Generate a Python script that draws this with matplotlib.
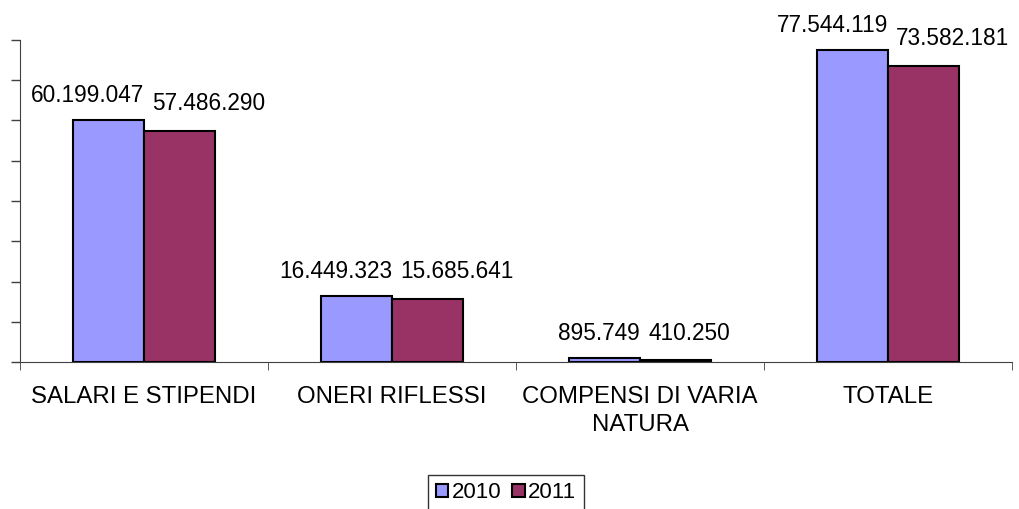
import numpy as np
import matplotlib.pyplot as plt
from matplotlib.patches import Patch

plt.rcParams['font.family'] = ['Liberation Sans', 'DejaVu Sans']

# Dati
categorie = ["SALARI E STIPENDI", "ONERI RIFLESSI", "COMPENSI DI VARIA\nNATURA", "TOTALE"]
anni = ["2010", "2011"]
valori_2010 = [60199047, 16449323, 895749, 77544119]
valori_2011 = [57486290, 15685641, 410250, 73582181]

colori = ["#9999FF", "#993366"]

def fmt(v):
    return f"{v:,}".replace(",", ".")

fig = plt.figure(figsize=(10.19, 5.09), dpi=100)
ax = fig.add_axes([20 / 1019, 1 - 362 / 509, 992 / 1019, 322 / 509])

x = np.arange(len(categorie))
w = 0.288
ax.bar(x - w / 2, valori_2010, w, color=colori[0], edgecolor="black", linewidth=1.5)
ax.bar(x + w / 2, valori_2011, w, color=colori[1], edgecolor="black", linewidth=1.5)

for i in range(len(categorie)):
    ax.annotate(fmt(valori_2010[i]), (x[i], valori_2010[i]), xytext=(0, 13),
                textcoords="offset points", ha="right", va="baseline", fontsize=16.3)
    ax.annotate(fmt(valori_2011[i]), (x[i], valori_2011[i]), xytext=(6, 15),
                textcoords="offset points", ha="left", va="baseline", fontsize=16.3)

ax.set_xlim(-0.5, len(categorie) - 0.5)
ax.set_ylim(0, 80000000)
ax.set_yticks(np.arange(0, 80000001, 10000000))
ax.set_yticklabels([])
ax.tick_params(axis="y", length=6.5, width=1, color="#404040", direction="out")

ax.set_xticks(x)
ax.set_xticklabels(categorie, fontsize=17.3, linespacing=1.4)
ax.tick_params(axis="x", length=0, pad=17)
ax.set_xticks(np.arange(-0.5, len(categorie)), minor=True)
ax.tick_params(axis="x", which="minor", length=6, color="#404040")

for s in ["top", "right"]:
    ax.spines[s].set_visible(False)
ax.spines["left"].set_color("#404040")
ax.spines["bottom"].set_color("#404040")

handles = [Patch(facecolor=c, edgecolor="black", linewidth=1.5) for c in colori]
leg = fig.legend(handles, anni, loc="center", bbox_to_anchor=(506 / 1019, 1 - 493 / 509),
                 ncol=2, fontsize=16, frameon=True, fancybox=False, handlelength=0.55,
                 handleheight=0.55, handletextpad=0.15, columnspacing=0.5, borderpad=0.35,
                 borderaxespad=0)
leg.get_frame().set_edgecolor("black")
leg.get_frame().set_linewidth(1)

plt.savefig("out.png", dpi=100)
